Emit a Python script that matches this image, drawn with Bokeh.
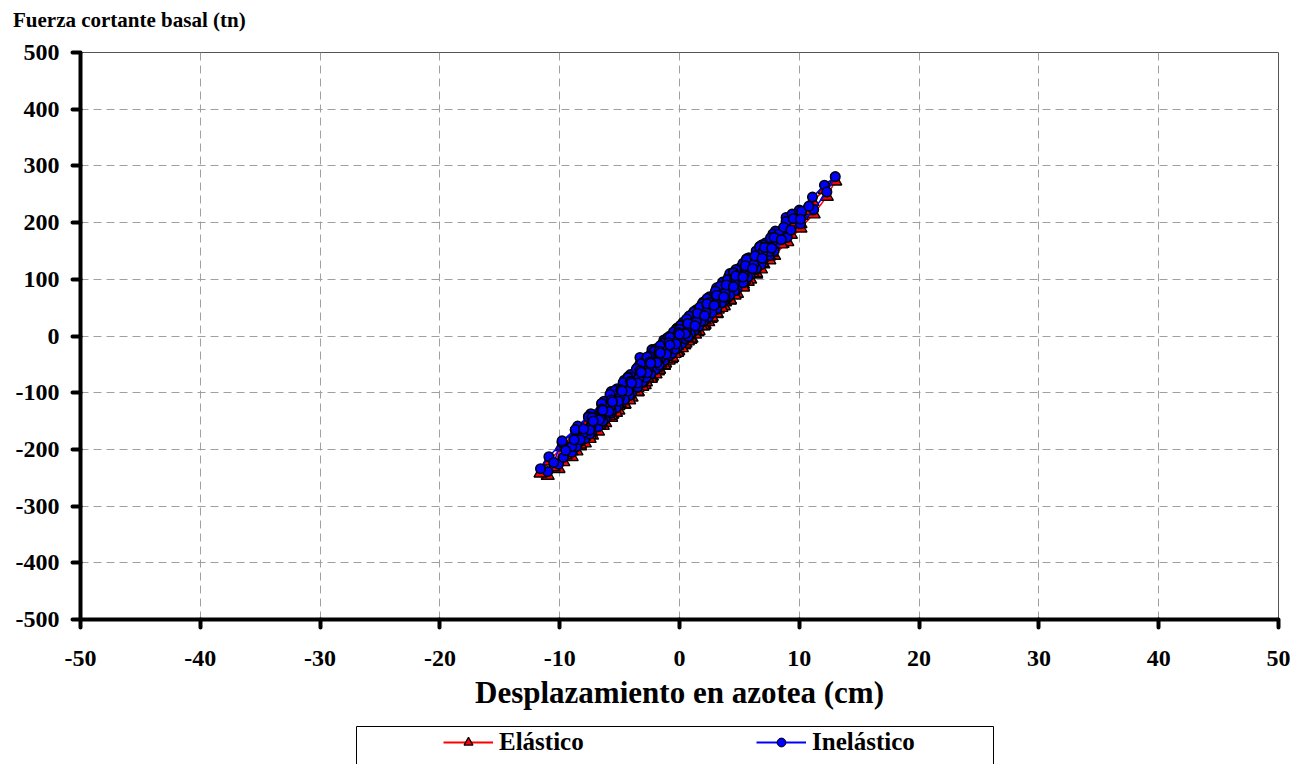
from bokeh.plotting import figure
from bokeh.models import FixedTicker, Legend, LegendItem, Range1d, BoxAnnotation, Div
from bokeh.layouts import column
from bokeh.embed import file_html
from bokeh.resources import INLINE

# ---- data ----
x_ticks = [-50, -40, -30, -20, -10, 0, 10, 20, 30, 40, 50]
y_ticks = [-500, -400, -300, -200, -100, 0, 100, 200, 300, 400, 500]

# roof displacement (cm), shared by both series
desplazamiento = [
    0.0, 1.0, 2.1, 3.2, 4.2,
    3.2, 2.1, 1.0, -0.1, -1.2, -2.3, -3.2, -3.9,
    -3.3, -2.3, -1.3, -0.2, 0.9, 2.0, 3.1, 4.1, 5.1, 6.1,
    5.3, 4.2, 3.1, 2.0, 0.9, -0.2, -1.3, -2.4, -3.5, -4.6, -5.6, -6.4,
    -5.7, -4.6, -3.5, -2.4, -1.3, -0.2, 0.9, 2.0, 3.1, 4.2, 5.3, 6.4, 7.2, 7.8,
    7.0, 5.9, 4.8, 3.7, 2.6, 1.5, 0.4, -0.7, -1.8, -2.9, -4.0, -5.1, -6.2, -7.3, -8.3, -9.2,
    -8.5, -7.4, -6.3, -5.2, -4.1, -3.0, -1.9, -0.8, 0.3, 1.4, 2.5, 3.6, 4.7, 5.8, 6.9, 8.0, 8.9, 9.4,
    8.6, 7.5, 6.4, 5.3, 4.2, 3.1, 2.0, 0.9, -0.2, -1.3, -2.4, -3.5, -4.6, -5.7, -6.8, -7.9, -9.0, -10.1, -11.0, -11.6,
    -10.9, -9.8, -8.7, -7.6, -6.5, -5.4, -4.3, -3.2, -2.1, -1.0, 0.1, 1.2, 2.3, 3.4, 4.5, 5.6, 6.7, 7.8, 8.9, 10.0, 11.1, 12.1, 13.0,
    12.3, 11.2, 10.1, 9.0, 7.9, 6.8, 5.7, 4.6, 3.5, 2.4, 1.3, 0.2, -0.9, -2.0, -3.1, -4.2, -5.3, -6.4, -7.5, -8.6, -9.7, -10.5,
    -9.8, -8.7, -7.6, -6.5, -5.4, -4.3, -3.2, -2.1, -1.0, 0.1, 1.2, 2.3, 3.4, 4.5, 5.6, 6.7, 7.6, 8.3,
    7.5, 6.4, 5.3, 4.2, 3.1, 2.0, 0.9, -0.2, -1.3, -2.4, -3.5, -4.6, -5.7, -6.5,
    -5.8, -4.7, -3.6, -2.5, -1.4, -0.3, 0.8, 1.9, 3.0, 4.0, 4.6,
    3.8, 2.7, 1.6, 0.5, -0.6, -1.7, -2.8, -3.4,
    -2.7, -1.6, -0.5, 0.6, 1.7, 2.5,
    1.8, 0.7, -0.4, -1.6,
    -0.8, 0.0,
    0.7, 1.5, 2.3, 3.1, 3.9, 4.7, 5.5, 6.3, 7.0,
    6.2, 5.4, 4.6, 3.8, 3.0, 2.2, 1.4, 0.6, -0.2, -1.0, -1.8, -2.6, -3.4, -4.2, -5.0, -5.8, -6.6, -7.4, -8.0,
    -7.3, -6.5, -5.7, -4.9, -4.1, -3.3, -2.5, -1.7, -0.9, -0.1, 0.7, 1.5, 2.3, 3.1, 3.9, 4.7, 5.5, 6.3, 7.1, 7.9, 8.7, 9.5, 10.2, 10.8,
    10.1, 9.3, 8.5, 7.7, 6.9, 6.1, 5.3, 4.5, 3.7, 2.9, 2.1, 1.3, 0.5, -0.3, -1.1, -1.9, -2.7, -3.5, -4.3, -5.1, -5.9, -6.7, -7.5, -8.3, -9.0, -9.5,
    -8.8, -8.0, -7.2, -6.4, -5.6, -4.8, -4.0, -3.2, -2.4, -1.6, -0.8, 0.0]

# base shear (tn)
fuerza_inelastico = [
    12, 35, 59, 82, 96,
    55, 28, 4, -18, -40, -64, -80, -84,
    -38, -24, -7, 14, 36, 58, 82, 104, 121, 134,
    99, 72, 48, 26, 2, -20, -44, -65, -90, -112, -130, -137,
    -98, -78, -56, -33, -11, 13, 35, 60, 85, 110, 128, 150, 164, 168,
    135, 108, 83, 61, 39, 15, -8, -32, -54, -78, -100, -123, -145, -167, -186, -196,
    -159, -137, -115, -93, -68, -46, -22, 0, 24, 46, 69, 95, 117, 138, 161, 185, 209, 215,
    171, 142, 117, 95, 71, 47, 26, 2, -20, -44, -66, -91, -113, -136, -160, -181, -205, -226, -239, -234,
    -213, -188, -166, -142, -120, -97, -72, -50, -26, -5, 19, 43, 65, 87, 112, 136, 158, 180, 202, 222, 245, 266, 281,
    254, 223, 198, 174, 150, 126, 104, 80, 58, 33, 11, -13, -35, -59, -81, -105, -127, -150, -173, -195, -214, -223,
    -185, -165, -143, -119, -96, -74, -49, -27, -3, 18, 42, 66, 88, 111, 135, 157, 173, 180,
    149, 119, 94, 72, 48, 26, 4, -21, -43, -67, -90, -112, -132, -140,
    -103, -82, -58, -36, -13, 11, 35, 57, 79, 99, 103,
    68, 41, 17, -5, -30, -51, -73, -75,
    -37, -17, 7, 30, 51, 59,
    26, -1, -23, -40,
    -2, 12,
    21, 37, 55, 70, 89, 105, 121, 139, 150,
    126, 107, 92, 76, 57, 41, 25, 7, -9, -25, -44, -60, -75, -94, -110, -126, -145, -160, -170,
    -144, -129, -113, -95, -80, -61, -46, -27, -12, 6, 22, 40, 57, 72, 90, 106, 124, 141, 156, 174, 192, 207, 220, 229,
    206, 187, 170, 155, 137, 119, 104, 87, 69, 54, 36, 18, 4, -14, -32, -47, -65, -83, -97, -115, -133, -148, -166, -183, -195, -202,
    -183, -164, -150, -131, -116, -97, -83, -64, -48, -30, -16, 3]

fuerza_elastico = [
    4, 27, 50, 74, 88,
    47, 20, -4, -26, -48, -71, -88, -92,
    -46, -31, -15, 6, 28, 50, 74, 96, 113, 126,
    91, 64, 40, 18, -6, -28, -52, -73, -98, -120, -138, -145,
    -106, -86, -64, -41, -19, 5, 27, 52, 77, 102, 120, 142, 156, 160,
    127, 100, 75, 53, 31, 7, -16, -40, -62, -86, -108, -131, -153, -175, -194, -204,
    -167, -145, -123, -101, -76, -54, -30, -8, 16, 38, 61, 87, 109, 130, 153, 177, 200, 204,
    163, 134, 109, 87, 63, 39, 18, -6, -28, -52, -74, -99, -121, -144, -168, -189, -213, -234, -246, -242,
    -221, -196, -174, -150, -128, -105, -80, -58, -34, -13, 11, 35, 57, 79, 104, 128, 150, 172, 194, 214, 237, 258, 273,
    246, 215, 190, 166, 142, 118, 96, 72, 50, 25, 3, -21, -43, -67, -89, -113, -135, -158, -181, -203, -222, -231,
    -193, -173, -151, -127, -104, -82, -57, -35, -11, 10, 34, 58, 80, 103, 127, 149, 165, 172,
    141, 111, 86, 64, 40, 18, -4, -29, -51, -75, -98, -120, -140, -148,
    -111, -90, -66, -44, -21, 3, 27, 49, 71, 91, 95,
    60, 33, 9, -13, -38, -59, -81, -83,
    -45, -25, -1, 22, 43, 51,
    18, -9, -31, -48,
    -10, 4,
    13, 29, 47, 62, 81, 97, 113, 131, 142,
    118, 99, 84, 68, 49, 33, 17, -1, -17, -33, -52, -68, -83, -102, -118, -134, -153, -168, -178,
    -152, -137, -121, -103, -88, -69, -54, -35, -20, -2, 14, 32, 49, 64, 82, 98, 116, 133, 148, 166, 184, 199, 212, 221,
    198, 179, 162, 147, 129, 111, 96, 79, 61, 46, 28, 10, -4, -22, -40, -55, -73, -91, -105, -123, -141, -156, -174, -191, -203, -210,
    -191, -172, -158, -139, -124, -105, -91, -72, -56, -38, -24, -5]

series_labels = ["Elástico", "Inelástico"]
titulo = "Fuerza cortante basal (tn)"

FONT = "Liberation Serif"
W = 1296

# ---- title strip ----
t = Div(text=titulo, width=W, height=40, margin=(0, 0, 0, 0),
        styles={"font-family": FONT, "font-weight": "bold", "font-size": "21px",
                "color": "black", "line-height": "1", "padding-left": "13px",
                "padding-top": "10px", "white-space": "nowrap"})

p = figure(width=W, height=682, output_backend="svg", toolbar_location=None,
           x_range=Range1d(-50, 50), y_range=Range1d(-500, 500),
           min_border_left=80, min_border_right=18, min_border_top=12,
           min_border_bottom=103)

p.outline_line_color = "#555555"
p.outline_line_width = 1
p.background_fill_color = "white"
p.border_fill_color = "white"

for g in (p.xgrid[0], p.ygrid[0]):
    g.grid_line_color = "#a0a0a0"
    g.grid_line_dash = "8 5"
    g.grid_line_width = 1
p.xgrid[0].ticker = FixedTicker(ticks=x_ticks)
p.ygrid[0].ticker = FixedTicker(ticks=y_ticks)

for ax, ticks in ((p.xaxis[0], x_ticks), (p.yaxis[0], y_ticks)):
    ax.ticker = FixedTicker(ticks=ticks)
    ax.major_label_overrides = {t_: str(t_) for t_ in ticks}
    ax.axis_line_color = "black"
    ax.axis_line_width = 4
    ax.major_tick_line_color = "black"
    ax.major_tick_line_width = 4
    ax.major_tick_line_cap = "round"
    ax.major_tick_out = 8
    ax.major_tick_in = 0
    ax.minor_tick_line_color = None
    ax.major_label_text_font = FONT
    ax.major_label_text_font_style = "bold"
    ax.major_label_text_font_size = "24px"
    ax.major_label_text_color = "black"

p.yaxis[0].major_label_standoff = 13
p.xaxis[0].major_label_standoff = 23
p.xaxis[0].axis_label = "Desplazamiento en azotea (cm)"
p.xaxis[0].axis_label_text_font = FONT
p.xaxis[0].axis_label_text_font_style = "bold"
p.xaxis[0].axis_label_text_font_size = "31px"
p.xaxis[0].axis_label_text_color = "black"
p.xaxis[0].axis_label_standoff = 6

p.line(desplazamiento, fuerza_elastico, line_color="red", line_width=1.5)
p.scatter(desplazamiento, fuerza_elastico, marker="triangle", size=13,
          fill_color="red", line_color="black", line_width=1.4)
p.line(desplazamiento, fuerza_inelastico, line_color="blue", line_width=1.5)
p.scatter(desplazamiento, fuerza_inelastico, marker="circle", size=9.5,
          fill_color="blue", line_color="black", line_width=1.6)

# ---- legend strip below the chart: a small figure whose frame lines up with the chart's ----
# its ranges are in pixels, so the series renderers used for the legend keys fall outside the view
q = figure(width=W, height=42, output_backend="svg", toolbar_location=None,
           x_range=Range1d(0, 1198), y_range=Range1d(1000, 1042),
           min_border_left=80, min_border_right=18, min_border_top=0,
           min_border_bottom=0)
q.axis.visible = False
q.grid.visible = False
q.outline_line_color = None
q.background_fill_color = "white"
q.border_fill_color = "white"

q.add_layout(BoxAnnotation(left=276, right=913, top=1038, bottom=990,
                           fill_color=None, fill_alpha=0,
                           line_color="black", line_width=1, line_alpha=1))

l1 = q.line(desplazamiento, fuerza_elastico, line_color="red", line_width=2)
m1 = q.scatter(desplazamiento, fuerza_elastico, marker="triangle", size=12,
               fill_color="red", line_color="black", line_width=1.3)
l2 = q.line(desplazamiento, fuerza_inelastico, line_color="blue", line_width=2)
m2 = q.scatter(desplazamiento, fuerza_inelastico, marker="circle", size=6,
               fill_color="blue", line_color="black", line_width=1)

legend = Legend(items=[LegendItem(label=series_labels[0], renderers=[l1, m1]),
                       LegendItem(label=series_labels[1], renderers=[l2, m2])],
                orientation="horizontal", location=(363, 8),
                padding=0, spacing=147, glyph_width=50, glyph_height=22,
                label_standoff=6, label_width=110,
                label_text_font=FONT, label_text_font_style="bold",
                label_text_font_size="25px", label_text_color="black",
                border_line_alpha=0, background_fill_alpha=0)
q.add_layout(legend, "center")

open("out.html", "w").write(file_html(column(t, p, q), INLINE))
